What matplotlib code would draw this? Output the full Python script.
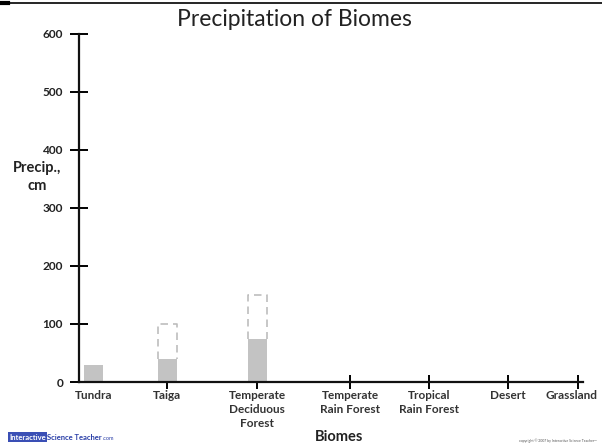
import matplotlib.pyplot as plt
from matplotlib.lines import Line2D
from matplotlib.transforms import ScaledTranslation

plt.rcParams['font.family'] = ['Lato', 'DejaVu Sans']

biomes = ["Tundra", "Taiga", "Temperate\nDeciduous\nForest", "Temperate\nRain Forest",
          "Tropical\nRain Forest", "Desert", "Grassland"]
low_precip = [30, 40, 75]      # solid gray bars
high_precip = [None, 100, 150]  # dashed top of range
yticks = [0, 100, 200, 300, 400, 500, 600]

# uneven spacing of the categories along the axis, as on the worksheet
xpos = [93.5, 167, 257, 350, 429, 508, 578]

fig = plt.figure(figsize=(6.02, 4.48), dpi=100)
ax = fig.add_axes([79 / 602, 66 / 448, (583 - 79) / 602, (382 - 34) / 448])
ax.set_xlim(79, 583)
ax.set_ylim(0, 600)

bar_w = 19
ax.bar(xpos[:len(low_precip)], low_precip, width=bar_w, color="#c3c3c3", zorder=2)
for x, lo, hi in zip(xpos, low_precip, high_precip):
    if hi is None:
        continue
    h = bar_w / 2
    ax.plot([x - h, x - h, x + h, x + h], [lo, hi, hi, lo], color="#bdbdbd",
            linestyle=(0, (4.5, 3)), linewidth=1.2, zorder=2)

for side in ["top", "right"]:
    ax.spines[side].set_visible(False)
for side in ["left", "bottom"]:
    ax.spines[side].set_linewidth(1.6)
    ax.spines[side].set_color("#111111")

ax.set_yticks(yticks)
ax.set_yticklabels([str(v) for v in yticks], fontsize=8.6, fontweight="bold", color="#222222")
ax.tick_params(axis="y", direction="inout", length=13, width=1.4, pad=5)

ax.set_xticks(xpos)
ax.set_xticklabels(biomes, fontsize=8.5, fontweight="bold", color="#333333", linespacing=1.3, va="top")
ax.tick_params(axis="x", direction="inout", length=10, width=1.4, pad=1)
ax.xaxis.get_major_ticks()[0].tick1line.set_visible(False)
ax.xaxis.get_major_ticks()[0].tick2line.set_visible(False)
last = ax.get_xticklabels()[-1]
last.set_transform(last.get_transform() + ScaledTranslation(-5 / 72, 0, fig.dpi_scale_trans))

fig.text(294 / 602, 1 - 20 / 448, "Precipitation of Biomes", fontsize=16.5, ha="center", va="center",
         color="#222222")
fig.text(37 / 602, 1 - 177 / 448, "Precip.,\ncm", fontsize=10.5, fontweight="bold", ha="center",
         va="center", color="#222222", linespacing=1.4)
fig.text(339 / 602, 1 - 437 / 448, "Biomes", fontsize=10.5, fontweight="bold", ha="center",
         va="center", color="#222222")

# top rule
fig.add_artist(Line2D([0, 1], [1 - 3 / 448] * 2, color="black", linewidth=1.2))
fig.add_artist(Line2D([0, 8 / 602], [1 - 3 / 448] * 2, color="black", linewidth=3))

# logo and copyright
fig.text(9 / 602, 1 - 437 / 448, "Interactive", fontsize=5.5, fontweight="bold", color="white",
         va="center", bbox=dict(boxstyle="square,pad=0.15", fc="#3a4fb5", ec="none"))
fig.text(47 / 602, 1 - 437 / 448, "Science Teacher", fontsize=5.5, fontweight="bold",
         color="#2a3fa8", va="center")
fig.text(103 / 602, 1 - 438 / 448, ".com", fontsize=4, color="#2a3fa8", va="center")
fig.text(597 / 602, 1 - 441 / 448, "copyright \u00a9 2007 by Interactive Science Teacher\u2122",
         fontsize=2.5, color="#555555", ha="right", va="center")

fig.savefig("out.png", dpi=100)
